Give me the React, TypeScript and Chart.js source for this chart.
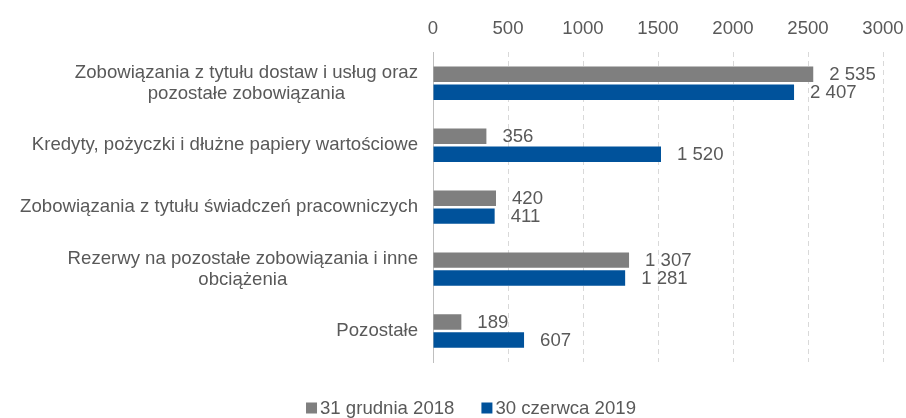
import React, { useEffect, useRef } from "react";
import { Chart, registerables } from "chart.js";

Chart.register(...registerables);

const categories: string[][] = [
  ["Zobowiązania z tytułu dostaw i usług oraz", "pozostałe zobowiązania"],
  ["Kredyty, pożyczki i dłużne papiery wartościowe"],
  ["Zobowiązania z tytułu świadczeń pracowniczych"],
  ["Rezerwy na pozostałe zobowiązania i inne", "obciążenia"],
  ["Pozostałe"],
];
const seriesNames = ["31 grudnia 2018", "30 czerwca 2019"];
const dec2018 = [2535, 356, 420, 1307, 189];
const jun2019 = [2407, 1520, 411, 1281, 607];
const xTicks = [0, 500, 1000, 1500, 2000, 2500, 3000];
const colors = ["#7f7f7f", "#00529b"];

const TEXT = "#595959";
const FAMILY = "'Liberation Sans', Arial, sans-serif";
const FSIZE = 18.6;
const FONT = FSIZE + "px " + FAMILY;

const fmt = (v: number) => String(v).replace(/\B(?=(\d{3})+(?!\d))/g, " ");

const customPlugin = {
  id: "custom",
  afterDraw(chart: any) {
    const ctx = chart.ctx;
    const y = chart.scales.y;
    const area = chart.chartArea;
    ctx.save();
    ctx.font = FONT;
    ctx.fillStyle = TEXT;
    // category labels
    categories.forEach((lines, i) => {
      const cy = y.getPixelForTick(i);
      const widths = lines.map((l) => ctx.measureText(l).width);
      const maxW = Math.max(...widths);
      const right = area.left - 15;
      const lh = 21;
      const startY = cy - ((lines.length - 1) * lh) / 2;
      ctx.textBaseline = "middle";
      ctx.textAlign = "center";
      lines.forEach((l, j) => {
        ctx.fillText(l, right - maxW / 2, startY + j * lh);
      });
    });
    // data labels
    ctx.textAlign = "left";
    ctx.textBaseline = "middle";
    chart.data.datasets.forEach((ds: any, di: number) => {
      const meta = chart.getDatasetMeta(di);
      meta.data.forEach((bar: any, i: number) => {
        ctx.fillText(fmt(ds.data[i]), bar.x + 16, bar.y + 1);
      });
    });
    // legend
    const ly = 408;
    const box = 11;
    const gapBoxText = 3;
    const gapItems = 27;
    const widths = seriesNames.map((n) => ctx.measureText(n).width);
    const total = widths.reduce((a, w) => a + box + gapBoxText + w, 0) + gapItems;
    let x = 471 - total / 2;
    seriesNames.forEach((n, i) => {
      ctx.fillStyle = colors[i];
      ctx.fillRect(x, ly - box / 2, box, box);
      ctx.fillStyle = TEXT;
      ctx.textAlign = "left";
      ctx.fillText(n, x + box + gapBoxText, ly + 1);
      x += box + gapBoxText + widths[i] + gapItems;
    });
    ctx.restore();
  },
};

export default function App() {
  const ref = useRef<HTMLCanvasElement>(null);
  useEffect(() => {
    if (!ref.current) return;
    const chart = new Chart(ref.current, {
      type: "bar",
      data: {
        labels: categories.map((c) => c.join(" ")),
        datasets: [
          { label: seriesNames[0], data: dec2018, backgroundColor: colors[0], categoryPercentage: 0.58, barPercentage: 0.86 },
          { label: seriesNames[1], data: jun2019, backgroundColor: colors[1], categoryPercentage: 0.58, barPercentage: 0.86 },
        ],
      },
      options: {
        indexAxis: "y",
        animation: false,
        responsive: false,
        layout: { padding: { left: 425, right: 23, top: 6, bottom: 56 } },
        plugins: { legend: { display: false }, tooltip: { enabled: false } },
        scales: {
          x: {
            position: "top",
            min: 0,
            max: 3000,
            afterBuildTicks: (scale: any) => {
              scale.ticks = xTicks.map((v) => ({ value: v }));
            },
            afterFit: (scale: any) => {
              scale.paddingRight = 0;
              scale.paddingLeft = 0;
            },
            ticks: {
              color: TEXT,
              font: { family: FAMILY, size: FSIZE },
              padding: 12,
              callback: (v: any) => String(v),
            },
            grid: { color: "#d9d9d9", drawTicks: false },
            border: { display: false, dash: [5, 4] },
          },
          y: {
            ticks: { display: false },
            grid: { display: false },
            border: { display: true, color: "#bfbfbf", width: 1 },
          },
        },
      },
      plugins: [customPlugin],
    });
    return () => chart.destroy();
  }, []);
  return (
    <div style={{ position: "absolute", left: 0, top: 0, width: 906, height: 418, background: "#fff" }}>
      <canvas ref={ref} width={906} height={418} style={{ width: 906, height: 418 }} />
    </div>
  );
}
